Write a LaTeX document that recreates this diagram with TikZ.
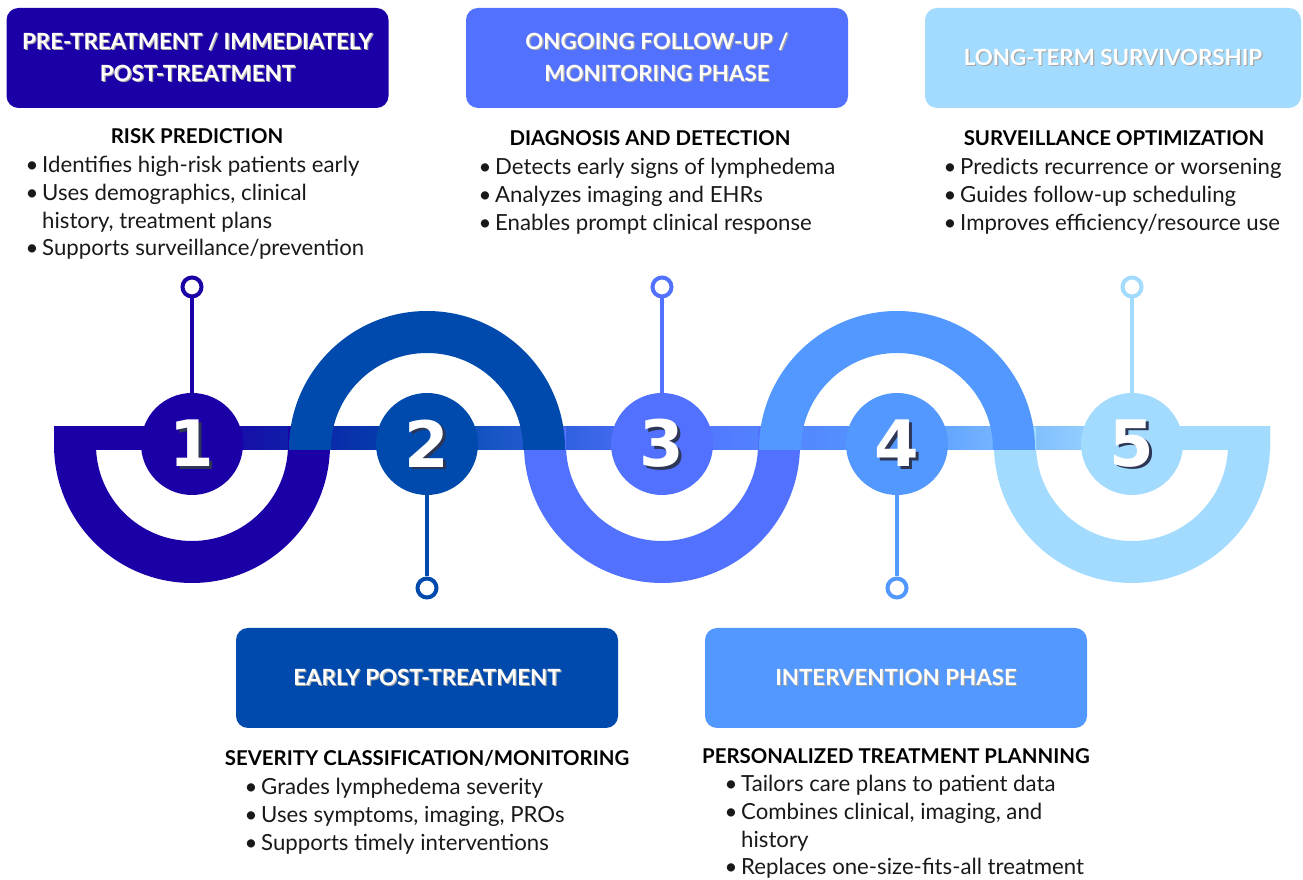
\documentclass[tikz,border=0pt]{standalone}
\usepackage{fontspec}
\setmainfont{Lato}
\newfontfamily\numfont{DejaVu Sans}

\definecolor{stepA}{RGB}{27,0,168}
\definecolor{stepB}{RGB}{0,74,173}
\definecolor{stepC}{RGB}{82,113,255}
\definecolor{stepD}{RGB}{83,152,255}
\definecolor{stepE}{RGB}{162,219,254}
\definecolor{numshadow}{RGB}{45,55,85}

\newcommand{\listdot}{\makebox[18pt][l]{\hspace*{1.5pt}\textbullet}}
\newcommand{\listind}{\hspace*{18pt}}
\newcommand{\txtshadow}[1]{\makebox[0pt][l]{\hspace*{1.2pt}\raisebox{-1.2pt}{\textcolor{black!35}{#1}}}#1}

\begin{document}
\begin{tikzpicture}[x=1pt, y=1pt,
    phase/.style={rounded corners=12pt, minimum width=382pt, minimum height=100pt, inner sep=0pt, align=center, text=white, font=\fontsize{22.3}{31.7}\selectfont\bfseries},
    head/.style={anchor=base, inner sep=0pt, font=\fontsize{20.4}{24}\selectfont\bfseries},
    item/.style={anchor=base west, inner sep=0pt, text=black!90, font=\fontsize{22.2}{27.7}\selectfont},
    stepnum/.style={circle, minimum size=102pt, inner sep=0pt},
    digit/.style={inner sep=0pt, font=\numfont\bfseries\fontsize{64}{64}\selectfont},
    pinring/.style={circle, draw, fill=white, line width=4pt, minimum size=19pt, inner sep=0pt},
    pin/.style={line width=4.5pt}
  ]
  \useasboundingbox (0,0) rectangle (1303,880);

  % Band
  \foreach \ca/\cb/\xa/\xb in {stepA/stepA/54/192, stepA/stepB/192/427, stepB/stepC/427/662, stepC/stepD/662/897, stepD/stepE/897/1132, stepE/stepE/1132/1270}
    \shade[left color=\ca, right color=\cb] (\xa,430) rectangle (\xb,453);

  % Lower arcs
  \foreach \cx/\col in {192/stepA, 662/stepC, 1132/stepE}
    \fill[\col] (\cx-138,453) -- (\cx-138,435) arc[start angle=180, end angle=360, radius=138]
      -- (\cx+138,453) -- (\cx+96,453) -- (\cx+96,435) arc[start angle=0, end angle=-180, radius=96]
      -- (\cx-96,453) -- cycle;

  % Upper arcs
  \foreach \cx/\col in {427/stepB, 897/stepD}
    \fill[\col] (\cx-138,430) -- (\cx-138,431) arc[start angle=180, end angle=0, radius=138]
      -- (\cx+138,430) -- (\cx+96,430) -- (\cx+96,431) arc[start angle=0, end angle=180, radius=96]
      -- (\cx-96,430) -- cycle;

  % Steps
  \foreach \n/\cx/\col in {1/192/stepA, 2/427/stepB, 3/662/stepC, 4/897/stepD, 5/1132/stepE} {
    \node[stepnum, fill=\col] (s\n) at (\cx,436) {};
    \node[digit, text=numshadow] (d\n s) at (\cx+2.5,434) {\n};
    \node[digit, text=white] (d\n) at (\cx,436.5) {\n};
  }

  % Pins
  \foreach \n/\cx/\py/\col in {1/192/593/stepA, 2/427/292/stepB, 3/662/593/stepC, 4/897/292/stepD, 5/1132/593/stepE} {
    \node[pinring, draw=\col] (p\n) at (\cx,\py) {};
    \draw[pin, \col] (p\n) -- (s\n);
  }

  % Phase boxes
  \node[phase, fill=stepA] (b1) at (197.5,822) {\txtshadow{PRE-TREATMENT / IMMEDIATELY}\\\txtshadow{POST-TREATMENT}};
  \node[phase, fill=stepC] (b3) at (657,822) {\txtshadow{ONGOING FOLLOW-UP /}\\\txtshadow{MONITORING PHASE}};
  \node[phase, fill=stepE, minimum width=376pt] (b5) at (1113,822) {\txtshadow{LONG-TERM SURVIVORSHIP}};
  \node[phase, fill=stepB] (b2) at (427,202) {\txtshadow{EARLY POST-TREATMENT}};
  \node[phase, fill=stepD] (b4) at (896,202) {\txtshadow{INTERVENTION PHASE}};

  % Headings
  \node[head] (h1) at (197,736) {RISK PREDICTION};
  \node[head] (h3) at (650,734) {DIAGNOSIS AND DETECTION};
  \node[head] (h5) at (1114,734) {SURVEILLANCE OPTIMIZATION};
  \node[head] (h2) at (427,114) {SEVERITY CLASSIFICATION/MONITORING};
  \node[head] (h4) at (896,116) {PERSONALIZED TREATMENT PLANNING};

  % Lists
  \foreach \t [count=\i] in {{\listdot Identifies high-risk patients early}, {\listdot Uses demographics, clinical}, {\listind history, treatment plans}, {\listdot Supports surveillance/prevention}}
    \node[item] (l1-\i) at (24,{707.3-27.7*(\i-1)}) {\t};
  \foreach \t [count=\i] in {{\listdot Detects early signs of lymphedema}, {\listdot Analyzes imaging and EHRs}, {\listdot Enables prompt clinical response}}
    \node[item] (l3-\i) at (477,{705-27.7*(\i-1)}) {\t};
  \foreach \t [count=\i] in {{\listdot Predicts recurrence or worsening}, {\listdot Guides follow-up scheduling}, {\listdot Improves efficiency/resource use}}
    \node[item] (l5-\i) at (942,{705-27.7*(\i-1)}) {\t};
  \foreach \t [count=\i] in {{\listdot Grades lymphedema severity}, {\listdot Uses symptoms, imaging, PROs}, {\listdot Supports timely interventions}}
    \node[item] (l2-\i) at (243,{85-27.7*(\i-1)}) {\t};
  \foreach \t [count=\i] in {{\listdot Tailors care plans to patient data}, {\listdot Combines clinical, imaging, and}, {\listind history}, {\listdot Replaces one-size-fits-all treatment}}
    \node[item] (l4-\i) at (723,{88.3-27.7*(\i-1)}) {\t};
\end{tikzpicture}
\end{document}
